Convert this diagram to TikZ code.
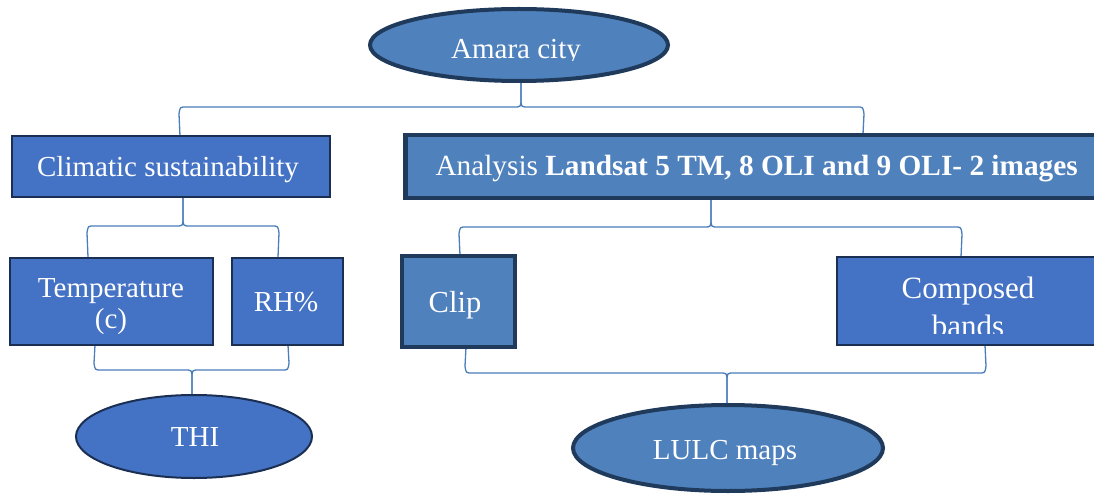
\documentclass[tikz,border=0pt]{standalone}
\usepackage{fontspec}
\setmainfont{Liberation Serif}
\usetikzlibrary{shapes.geometric,calc,backgrounds}

\definecolor{steel}{HTML}{4F81BD}
\definecolor{royal}{HTML}{4472C4}
\definecolor{navyedge}{HTML}{1F3A5A}
\definecolor{darkedge}{HTML}{1B2F52}
\definecolor{linkblue}{HTML}{4A7EBB}

\tikzset{
  txt/.style={text=white, font=\fontsize{29}{32}\selectfont},
  heavybox/.style={rectangle, fill=steel, draw=navyedge, line width=4.5pt, inner sep=0pt},
  lightbox/.style={rectangle, fill=royal, draw=darkedge, line width=2pt, inner sep=0pt},
  heavyoval/.style={ellipse, fill=steel, draw=navyedge, line width=4pt, inner sep=0pt},
  lightoval/.style={ellipse, fill=royal, draw=darkedge, line width=2pt, inner sep=0pt},
  conn/.style={draw=linkblue, line width=1.3pt},
}

% brace-shaped link: #1 parent anchor, #2 left end, #3 right end,
% #4 level of the bar, #5 cusp offset towards the parent, #6 corner offset towards the children
\newcommand{\bracelink}[6]{%
  \draw[conn] (#1) -- ($(#1 |- #4)+(0,#5)$)
    .. controls (#1 |- #4) .. ($(#1 |- #4)+(-7,0)$)
    -- ($(#2 |- #4)+(6,0)$)
    .. controls (#2 |- #4) .. ($(#2 |- #4)+(-1,#6)$) -- (#2);
  \draw[conn] (#1) -- ($(#1 |- #4)+(0,#5)$)
    .. controls (#1 |- #4) .. ($(#1 |- #4)+(7,0)$)
    -- ($(#3 |- #4)+(-6,0)$)
    .. controls (#3 |- #4) .. ($(#3 |- #4)+(1,#6)$) -- (#3);
}

\begin{document}
\begin{tikzpicture}[x=1pt, y=-1pt]
\useasboundingbox (0,0) rectangle (1094,494);

% top level
\node[heavyoval, minimum width=298, minimum height=72] (amara) at (519,45) {};
\begin{scope}
  \clip (380,20) rectangle (660,60.5);
  \node[txt, anchor=base] (amaratxt) at (516,59) {Amara city};
\end{scope}

% climate branch
\node[lightbox, minimum width=318, minimum height=61] (climate) at (171,166.5) {};
\node[txt, anchor=base] (climatetxt) at (168,177) {Climatic sustainability};
\node[lightbox, minimum width=203, minimum height=87] (temp) at (111.5,301.5) {};
\node[txt, align=center, font=\fontsize{29}{31}\selectfont, anchor=base] (temptxt) at (111,328) {Temperature\\(c)};
\node[lightbox, minimum width=111, minimum height=87] (rh) at (287.5,301.5) {};
\node[txt, anchor=base] (rhtxt) at (286,311) {RH\%};
\node[lightoval, minimum width=236, minimum height=83] (thi) at (194,436.5) {};
\node[txt, anchor=base] (thitxt) at (195,446) {THI};

% image branch
\node[heavybox, minimum width=700, minimum height=63, anchor=west] (analysis) at (403,166.5) {};
\node[txt, anchor=base west, font=\fontsize{29.3}{32}\selectfont] (analysistxt) at (432,175.5)
  {Analysis \textbf{Landsat 5 TM, 8 OLI and 9 OLI- 2 images}};
\node[heavybox, minimum width=113, minimum height=91] (clip) at (458.5,301.5) {};
\node[txt, anchor=base, font=\fontsize{30.5}{32}\selectfont] (cliptxt) at (455,312) {Clip};
\node[lightbox, minimum width=300, minimum height=87, anchor=west] (compose) at (836,301) {};
\begin{scope}
  \clip (840,260) rectangle (1094,333.5);
  \node[txt, align=center, font=\fontsize{31}{38}\selectfont, anchor=base] (composetxt) at (968,336)
    {Composed\\bands};
\end{scope}
\node[heavyoval, minimum width=310, minimum height=86] (lulc) at (728,448) {};
\node[txt, anchor=base] (lulctxt) at (725,459) {LULC maps};

% ends and levels of the links
\coordinate (topL) at (180,136);
\coordinate (topR) at (863,134);
\coordinate (topBar) at (0,107);
\coordinate (cliL) at (88,257);
\coordinate (cliR) at (278,257);
\coordinate (cliBar) at (0,226);
\coordinate (thiL) at (95,345);
\coordinate (thiR) at (288,345);
\coordinate (thiBar) at (0,370);
\coordinate (anaL) at (460,255);
\coordinate (anaR) at (961,257);
\coordinate (anaBar) at (0,227);
\coordinate (lulcL) at (466,347);
\coordinate (lulcR) at (985,345);
\coordinate (lulcBar) at (0,373);
\coordinate (amaraStem) at (521,82);
\coordinate (climStem) at (183,197);
\coordinate (anaStem) at (711,199);
\coordinate (thiStem) at (192,395);
\coordinate (lulcStem) at (727,404);

\begin{scope}[on background layer]
  \bracelink{amaraStem}{topL}{topR}{topBar}{-9}{7}
  \bracelink{climStem}{cliL}{cliR}{cliBar}{-9}{7}
  \bracelink{anaStem}{anaL}{anaR}{anaBar}{-9}{7}
  \bracelink{thiStem}{thiL}{thiR}{thiBar}{9}{-7}
  \bracelink{lulcStem}{lulcL}{lulcR}{lulcBar}{9}{-7}
\end{scope}
\end{tikzpicture}
\end{document}
